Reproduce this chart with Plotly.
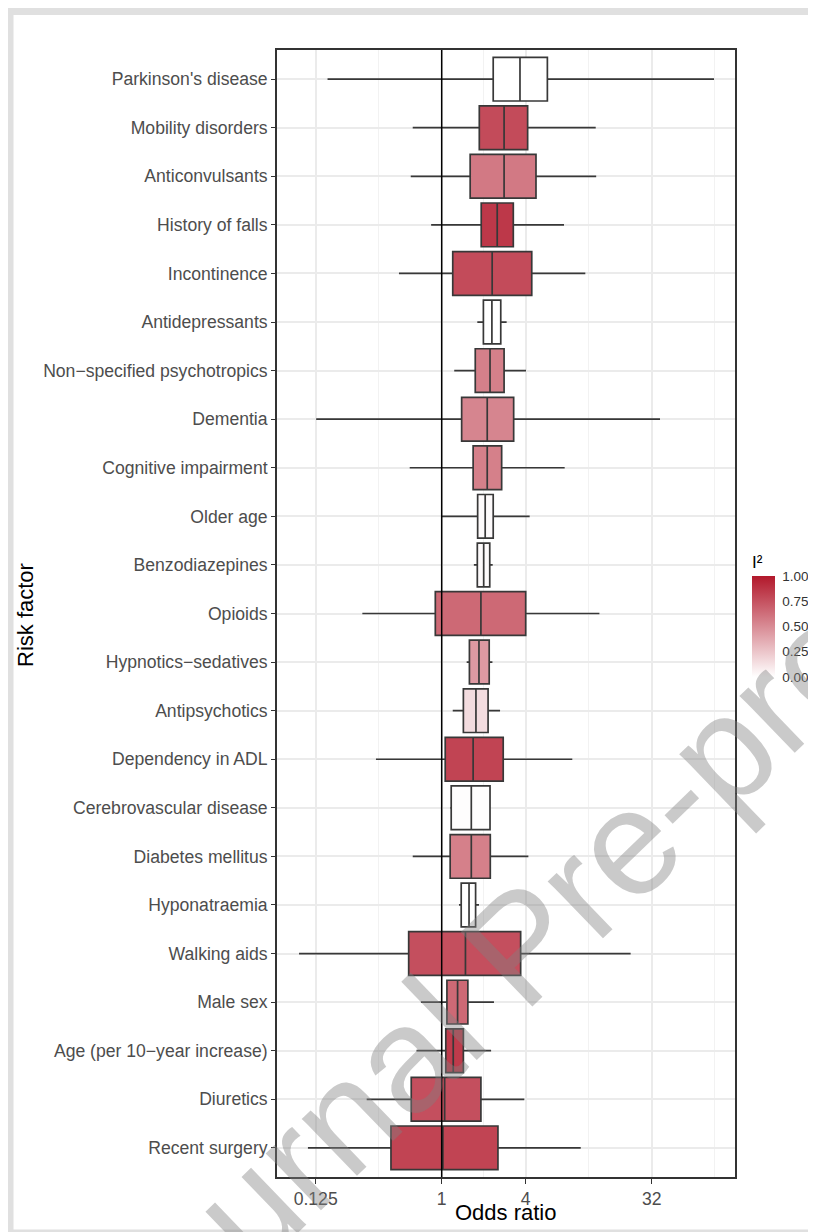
import math
import plotly.graph_objects as go
from plotly.colors import sample_colorscale

# ---------------- data ----------------
risk_factors = [
    "Parkinson's disease", "Mobility disorders", "Anticonvulsants", "History of falls",
    "Incontinence", "Antidepressants", "Non\u2212specified psychotropics", "Dementia",
    "Cognitive impairment", "Older age", "Benzodiazepines", "Opioids",
    "Hypnotics\u2212sedatives", "Antipsychotics", "Dependency in ADL", "Cerebrovascular disease",
    "Diabetes mellitus", "Hyponatraemia", "Walking aids", "Male sex",
    "Age (per 10\u2212year increase)", "Diuretics", "Recent surgery",
]
odds_ratio = [3.64, 2.80, 2.80, 2.50, 2.30, 2.29, 2.22, 2.12, 2.12, 2.05, 2.00, 1.91,
              1.85, 1.76, 1.68, 1.63, 1.63, 1.57, 1.48, 1.30, 1.21, 1.05, 1.02]
ci_low = [2.34, 1.86, 1.60, 1.92, 1.20, 1.99, 1.74, 1.39, 1.68, 1.81, 1.80, 0.90,
          1.58, 1.43, 1.06, 1.17, 1.15, 1.38, 0.58, 1.09, 1.07, 0.605, 0.433]
ci_high = [5.72, 4.13, 4.74, 3.26, 4.42, 2.65, 2.80, 3.28, 2.69, 2.34, 2.21, 4.00,
           2.19, 2.15, 2.76, 2.22, 2.23, 1.75, 3.68, 1.54, 1.43, 1.91, 2.53]
pi_low = [0.152, 0.62, 0.60, 0.84, 0.494, 1.80, 1.23, 0.126, 0.59, 1.00, 1.70, 0.27,
          1.51, 1.20, 0.338, 1.15, 0.62, 1.33, 0.095, 0.71, 0.66, 0.29, 0.11]
pi_high = [89.5, 12.7, 12.8, 7.53, 10.7, 2.92, 4.02, 36.7, 7.61, 4.27, 2.32, 13.5,
           2.31, 2.62, 8.63, 2.25, 4.18, 1.85, 22.6, 2.37, 2.26, 3.91, 9.92]
i_squared = [0.0, 0.78, 0.58, 0.86, 0.78, 0.0, 0.55, 0.53, 0.55, 0.02, 0.02, 0.65,
             0.44, 0.15, 0.81, 0.01, 0.55, 0.0, 0.76, 0.65, 0.85, 0.76, 0.81]

x_tick_vals = [0.125, 1, 4, 32]
x_tick_text = ["0.125", "1", "4", "32"]
i2_tick_vals = [0.0, 0.25, 0.5, 0.75, 1.0]
i2_tick_text = ["0.00", "0.25", "0.50", "0.75", "1.00"]
REF_OR = 1

# ---------------- layout geometry (screen pixels; page body has an 8px margin) ----------------
OFF = 8
W, H = 816 - OFF, 1232 - OFF
PANEL_L, PANEL_R, PANEL_T, PANEL_B = 277, 735, 50, 1177   # screen px
L = PANEL_L - OFF
T = PANEL_T - OFF
R = W - (PANEL_R - OFF)
B = H - (PANEL_B - OFF)
PW, PH = W - L - R, H - T - B


def px_x(sx):
    return (sx - OFF - L) / PW


def px_y(sy):
    return (H - B - (sy - OFF)) / PH


FONT = "Liberation Sans, Arial, Helvetica, sans-serif"
LOW_COL, HIGH_COL = "#FFFFFF", "#B2182B"
colorscale = [[0.0, LOW_COL], [1.0, HIGH_COL]]
fill_colors = sample_colorscale(colorscale, i_squared)

fig = go.Figure()

for name, orv, lo, hi, plo, phi, col in zip(risk_factors, odds_ratio, ci_low, ci_high,
                                            pi_low, pi_high, fill_colors):
    fig.add_trace(go.Box(
        y=[name], q1=[lo], median=[orv], q3=[hi], lowerfence=[plo], upperfence=[phi],
        orientation="h", fillcolor=col,
        line=dict(color="#383838", width=1.7),
        width=0.9, whiskerwidth=0, boxpoints=False,
        showlegend=False, hoverinfo="skip",
    ))

# invisible trace that carries the I² colour bar
CB_TOP, CB_BOTTOM = 552, 677   # screen px, title top to bar bottom
fig.add_trace(go.Scatter(
    x=odds_ratio, y=risk_factors, mode="markers",
    marker=dict(size=1, opacity=0, color=i_squared, colorscale=colorscale,
                cmin=0, cmax=1, showscale=True,
                colorbar=dict(
                    title=dict(text="I\u00b2", side="top",
                               font=dict(family=FONT, size=17, color="#000000")),
                    x=px_x(752), xanchor="left", xpad=0,
                    y=px_y((CB_TOP + CB_BOTTOM) / 2), yanchor="middle", ypad=0,
                    len=CB_BOTTOM - CB_TOP, lenmode="pixels",
                    thickness=23, thicknessmode="pixels",
                    outlinewidth=0,
                    tickmode="array", tickvals=i2_tick_vals, ticktext=i2_tick_text,
                    ticks="outside", ticklen=5, tickcolor="rgba(255,255,255,0)", tickwidth=1,
                    tickfont=dict(family=FONT, size=13.5, color="#333333"),
                )),
    showlegend=False, hoverinfo="skip",
))

# minor grid positions: midpoints (in log space) between major ticks, plus one beyond
logs = [math.log2(v) for v in x_tick_vals]
minor_logs = [(a + b) / 2 for a, b in zip(logs[:-1], logs[1:])]
minor_logs.append(logs[-1] + (logs[-1] - logs[-2]) / 2)
minor_vals = [2 ** v for v in minor_logs]

x_lo, x_hi = 2 ** -3.921, 2 ** 6.983

fig.update_xaxes(
    type="log", range=[math.log10(x_lo), math.log10(x_hi)],
    tickmode="array", tickvals=x_tick_vals, ticktext=x_tick_text,
    tickfont=dict(family=FONT, size=17.6, color="#4D4D4D"),
    ticks="outside", ticklen=5, tickcolor="#333333", tickwidth=1,
    showgrid=True, gridcolor="#EBEBEB", gridwidth=1.6,
    minor=dict(tickmode="array", tickvals=minor_vals, showgrid=True,
               gridcolor="#F2F2F2", gridwidth=1, ticks=""),
    showline=True, linecolor="#333333", linewidth=1.8, mirror=True,
    zeroline=False,
)
fig.update_yaxes(
    type="category", categoryorder="array", categoryarray=risk_factors[::-1],
    range=[-0.6, len(risk_factors) - 0.4],
    tickfont=dict(family=FONT, size=17.6, color="#4D4D4D"),
    ticks="outside", ticklen=4, tickcolor="#333333", tickwidth=1,
    showgrid=True, gridcolor="#EBEBEB", gridwidth=1.6,
    showline=True, linecolor="#333333", linewidth=1.8, mirror=True,
    zeroline=False,
)

shapes = [
    # reference line at OR = 1
    dict(type="line", xref="x", yref="paper", x0=REF_OR, x1=REF_OR, y0=0, y1=1,
         line=dict(color="#000000", width=1.5), layer="above"),
    # page frame of the screenshot
    dict(type="line", xref="paper", yref="paper", x0=px_x(7), x1=px_x(830),
         y0=px_y(11), y1=px_y(11), line=dict(color="#E0E0E0", width=8), layer="above"),
    dict(type="line", xref="paper", yref="paper", x0=px_x(10), x1=px_x(10),
         y0=px_y(7), y1=px_y(1240), line=dict(color="#E0E0E0", width=7), layer="above"),
    dict(type="line", xref="paper", yref="paper", x0=px_x(7), x1=px_x(830),
         y0=px_y(1231), y1=px_y(1231), line=dict(color="#E0E0E0", width=3), layer="above"),
]

annotations = [
    dict(text="Odds ratio", xref="paper", yref="paper", x=px_x(506), y=px_y(1212),
         xanchor="center", yanchor="middle", showarrow=False,
         font=dict(family=FONT, size=22, color="#000000")),
    dict(text="Risk factor", xref="paper", yref="paper", x=px_x(25), y=px_y(615),
         xanchor="center", yanchor="middle", showarrow=False, textangle=-90,
         font=dict(family=FONT, size=22, color="#000000")),
    # watermark
    dict(text="Journal Pre-proof", xref="paper", yref="paper", x=px_x(520), y=px_y(946),
         xanchor="center", yanchor="middle", showarrow=False, textangle=-44,
         font=dict(family=FONT, size=150, color="rgba(128,128,128,0.42)")),
]

fig.update_layout(
    width=W, height=H,
    margin=dict(l=L, r=R, t=T, b=B, autoexpand=False),
    paper_bgcolor="white", plot_bgcolor="white",
    boxmode="overlay",
    shapes=shapes, annotations=annotations,
    font=dict(family=FONT),
)

fig.write_html("out.html")
